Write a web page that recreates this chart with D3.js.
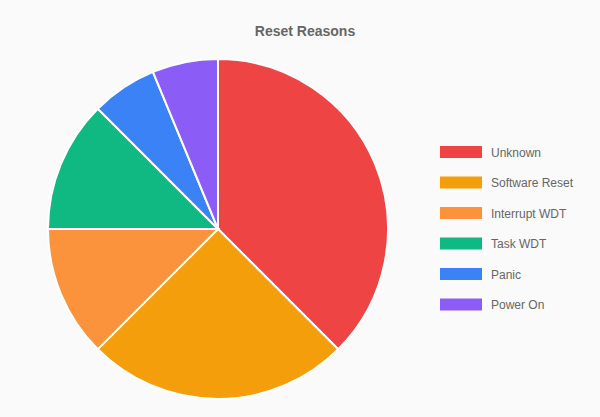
<!DOCTYPE html>
<html>
<head>
<meta charset="utf-8">
<script src="https://cdn.jsdelivr.net/npm/d3@7"></script>
<style>
  body { margin: 0; background: #fafafa; }
  svg { display: block; font-family: "Helvetica Neue", Helvetica, Arial, sans-serif; }
</style>
</head>
<body>
<svg id="chart" width="600" height="417"></svg>
<script>
var labels = ["Unknown", "Software Reset", "Interrupt WDT", "Task WDT", "Panic", "Power On"];
var counts = [6, 4, 2, 2, 1, 1];
var colors = ["#ef4444", "#f59e0b", "#fb923c", "#10b981", "#3b82f6", "#8b5cf6"];

var svg = d3.select("#chart");

svg.append("text")
    .attr("x", 305).attr("y", 36)
    .attr("text-anchor", "middle")
    .attr("font-size", 14).attr("font-weight", "bold")
    .attr("fill", "#666")
    .text("Reset Reasons");

var pie = d3.pie().sort(null).value(function(d){ return d; });
var arc = d3.arc().innerRadius(0).outerRadius(170);

var g = svg.append("g").attr("transform", "translate(218,229)");
g.selectAll("path")
    .data(pie(counts))
    .enter().append("path")
    .attr("d", arc)
    .attr("fill", function(d, i){ return colors[i]; })
    .attr("stroke", "#fff")
    .attr("stroke-width", 2);

// legend
var legend = svg.append("g").attr("transform", "translate(440,146)");
var item = legend.selectAll("g")
    .data(labels)
    .enter().append("g")
    .attr("transform", function(d, i){ return "translate(0," + (i * 30.5) + ")"; });
item.append("rect")
    .attr("width", 42).attr("height", 12)
    .attr("fill", function(d, i){ return colors[i]; });
item.append("text")
    .attr("x", 51).attr("y", 10.5)
    .attr("font-size", 12).attr("fill", "#666")
    .text(function(d){ return d; });
</script>
</body>
</html>
